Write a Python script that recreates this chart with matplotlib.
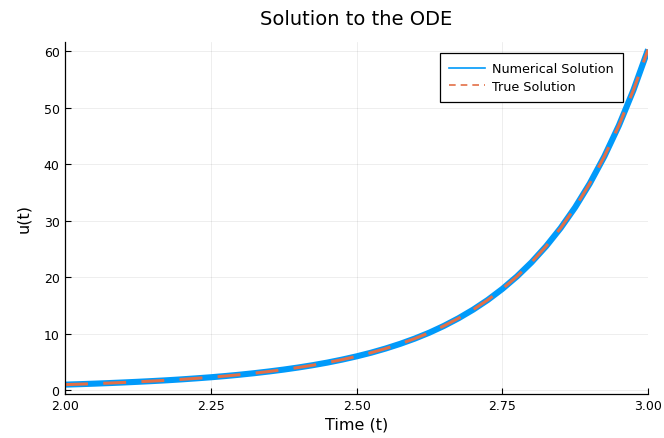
import matplotlib
matplotlib.use("Agg")
import matplotlib.pyplot as plt
from matplotlib.lines import Line2D

# time grid and solution values
t = [2.000, 2.025, 2.050, 2.075, 2.100, 2.125, 2.150, 2.175, 2.200, 2.225,
     2.250, 2.275, 2.300, 2.325, 2.350, 2.375, 2.400, 2.425, 2.450, 2.475,
     2.500, 2.525, 2.550, 2.575, 2.600, 2.625, 2.650, 2.675, 2.700, 2.725,
     2.750, 2.775, 2.800, 2.825, 2.850, 2.875, 2.900, 2.925, 2.950, 2.975,
     3.000]
u_num = [1.00, 1.08, 1.17, 1.27, 1.38, 1.50, 1.63, 1.77, 1.93, 2.11,
         2.30, 2.52, 2.76, 3.03, 3.33, 3.66, 4.03, 4.44, 4.90, 5.42,
         6.00, 6.65, 7.39, 8.22, 9.15, 10.20, 11.40, 12.75, 14.27, 15.98,
         17.93, 20.13, 22.63, 25.47, 28.70, 32.38, 36.58, 41.38, 46.86, 53.13,
         60.30]
u_true = [1.00, 1.08, 1.17, 1.27, 1.38, 1.50, 1.63, 1.77, 1.93, 2.11,
          2.30, 2.52, 2.76, 3.03, 3.33, 3.66, 4.03, 4.44, 4.90, 5.42,
          6.00, 6.65, 7.39, 8.22, 9.15, 10.20, 11.40, 12.75, 14.27, 15.98,
          17.93, 20.13, 22.63, 25.47, 28.70, 32.38, 36.58, 41.38, 46.86, 53.13,
          60.30]

xticks = [2.00, 2.25, 2.50, 2.75, 3.00]
yticks = [0, 10, 20, 30, 40, 50, 60]

blue = "#009AFA"
orange = "#E36F47"

fig = plt.figure(figsize=(6.64, 4.39), dpi=100)
ax = fig.add_axes([0.098, 0.101, 0.878, 0.802])

ax.plot(t, u_num, color=blue, lw=4.4, solid_capstyle="butt")
ax.plot(t, u_true, color=orange, lw=2.2, dashes=(7.5, 5), dash_capstyle="butt")

ax.set_xlim(2.0, 3.0)
ax.set_ylim(-0.6, 61.7)
ax.set_xticks(xticks)
ax.set_xticklabels(["%.2f" % v for v in xticks])
ax.set_yticks(yticks)
ax.grid(True, color="black", alpha=0.08, lw=0.6)
ax.set_axisbelow(True)
for s in ["top", "right"]:
    ax.spines[s].set_visible(False)
for s in ["left", "bottom"]:
    ax.spines[s].set_linewidth(0.9)
ax.tick_params(direction="in", length=4, width=0.8, labelsize=9, pad=4)

ax.set_title("Solution to the ODE", fontsize=14, pad=13)
ax.set_xlabel("Time (t)", fontsize=11.5, labelpad=3)
ax.set_ylabel("u(t)", fontsize=11.5, labelpad=9)

handles = [Line2D([0], [0], color=blue, lw=1.2),
           Line2D([0], [0], color=orange, lw=1.2, dashes=(4, 3))]
leg = ax.legend(handles, ["Numerical Solution", "True Solution"],
                loc="upper right", bbox_to_anchor=(0.968, 0.985),
                fontsize=9.2, fancybox=False, framealpha=1,
                edgecolor="black", handlelength=2.8, borderpad=0.7,
                labelspacing=0.35, handletextpad=0.6)
leg.get_frame().set_linewidth(0.9)

fig.savefig("out.png", dpi=100)
